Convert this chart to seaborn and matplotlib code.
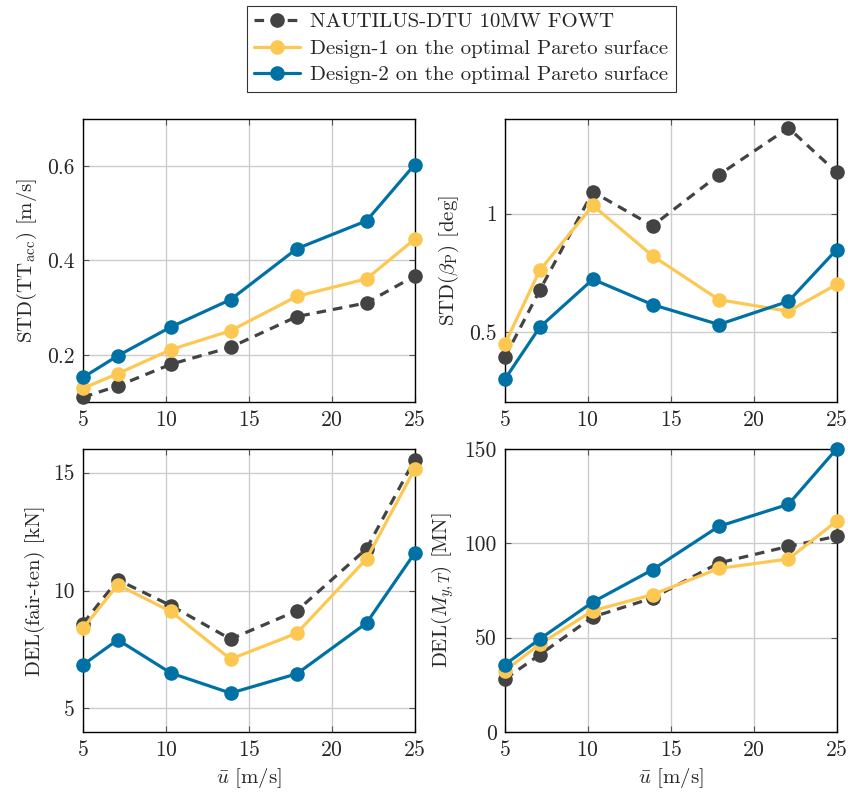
import matplotlib
matplotlib.use("Agg")
import matplotlib.pyplot as plt
import numpy as np
import pandas as pd
import seaborn as sns

# Mean wind speeds [m/s]
wind_speed = [5, 7.1, 10.3, 13.9, 17.9, 22.1, 25]

series_names = [
    "NAUTILUS-DTU 10MW FOWT",
    "Design-1 on the optimal Pareto surface",
    "Design-2 on the optimal Pareto surface",
]

# STD of tower-top acceleration [m/s]
std_tt_base = [0.110, 0.134, 0.180, 0.216, 0.281, 0.310, 0.367]
std_tt_d1 = [0.129, 0.160, 0.211, 0.251, 0.324, 0.361, 0.445]
std_tt_d2 = [0.152, 0.198, 0.259, 0.317, 0.425, 0.484, 0.603]

# STD of platform pitch [deg]
std_pitch_base = [0.395, 0.677, 1.092, 0.949, 1.164, 1.362, 1.175]
std_pitch_d1 = [0.451, 0.761, 1.035, 0.822, 0.637, 0.588, 0.701]
std_pitch_d2 = [0.302, 0.521, 0.723, 0.616, 0.532, 0.630, 0.848]

# DEL of fairlead tension [kN]
del_fair_base = [8.60, 10.45, 9.36, 7.94, 9.14, 11.77, 15.54]
del_fair_d1 = [8.40, 10.24, 9.11, 7.09, 8.19, 11.34, 15.14]
del_fair_d2 = [6.85, 7.91, 6.50, 5.65, 6.47, 8.62, 11.58]

# DEL of tower-base fore-aft moment [MN]
del_my_base = [28.1, 41.0, 61.0, 71.0, 89.6, 98.4, 103.7]
del_my_d1 = [32.5, 46.6, 64.3, 72.8, 86.7, 91.7, 111.7]
del_my_d2 = [35.7, 49.3, 68.9, 86.0, 109.0, 120.7, 150.0]

colors = ["#434343", "#FDC852", "#0071A4"]
linestyles = [(0, (3.0, 2.2)), "-", "-"]

sns.set_theme(style="white")
plt.rcParams["font.family"] = ["cmr10", "DejaVu Serif"]
plt.rcParams["mathtext.fontset"] = "cm"
plt.rcParams["axes.formatter.use_mathtext"] = True
plt.rcParams["axes.unicode_minus"] = False

fig = plt.figure(figsize=(8.48, 7.93), dpi=100)

left_l, left_r, width = 0.0979, 0.5955, 0.3910
bottom_t, bottom_b, height = 0.4931, 0.0769, 0.3569

panels = [
    dict(pos=[left_l, bottom_t, width, height],
         data=[std_tt_base, std_tt_d1, std_tt_d2],
         ylabel=r"STD(TT$_{\rm acc}$) [m/s]", ylim=(0.1, 0.7),
         yticks=[0.2, 0.4, 0.6], yticklabels=["0.2", "0.4", "0.6"], xlabel=None),
    dict(pos=[left_r, bottom_t, width, height],
         data=[std_pitch_base, std_pitch_d1, std_pitch_d2],
         ylabel=r"STD($\beta_{\rm P}$) [deg]", ylim=(0.205, 1.4),
         yticks=[0.5, 1.0], yticklabels=["0.5", "1"], xlabel=None),
    dict(pos=[left_l, bottom_b, width, height],
         data=[del_fair_base, del_fair_d1, del_fair_d2],
         ylabel="DEL(fair-ten) [kN]", ylim=(4, 16),
         yticks=[5, 10, 15], yticklabels=["5", "10", "15"],
         xlabel=r"$\bar{u}$ [m/s]"),
    dict(pos=[left_r, bottom_b, width, height],
         data=[del_my_base, del_my_d1, del_my_d2],
         ylabel=r"DEL($M_{y,T}$) [MN]", ylim=(0, 150),
         yticks=[0, 50, 100, 150], yticklabels=["0", "50", "100", "150"],
         xlabel=r"$\bar{u}$ [m/s]"),
]

handles = None
for p in panels:
    ax = fig.add_axes(p["pos"])
    for name, vals, col, ls in zip(series_names, p["data"], colors, linestyles):
        df = pd.DataFrame({"u": wind_speed, "v": vals})
        sns.lineplot(data=df, x="u", y="v", ax=ax, color=col, linestyle=ls,
                     linewidth=2.3, marker="o", markersize=10.5,
                     markeredgewidth=0, markeredgecolor=col,
                     label=name, clip_on=False, zorder=3)
    ax.set_xlim(5, 25)
    ax.set_xticks([5, 10, 15, 20, 25])
    ax.set_ylim(*p["ylim"])
    ax.set_yticks(p["yticks"])
    ax.set_yticklabels(p["yticklabels"])
    ax.grid(True, color="#cccccc", linewidth=1.0)
    ax.set_axisbelow(True)
    for s in ax.spines.values():
        s.set_color("black")
        s.set_linewidth(1.0)
    ax.tick_params(axis="both", which="both", direction="in", length=4,
                   width=0.8, color="#555555", labelsize=15.5, top=True,
                   right=True, bottom=True, left=True, pad=6)
    ax.set_ylabel(p["ylabel"], fontsize=15, labelpad=6)
    if p["xlabel"]:
        ax.set_xlabel(p["xlabel"], fontsize=15, labelpad=4)
    else:
        ax.set_xlabel("")
    if handles is None:
        handles, labels = ax.get_legend_handles_labels()
    ax.get_legend().remove()

leg = fig.legend(handles, labels, loc="upper center",
                 bbox_to_anchor=(0.544, 0.993), ncol=1, fontsize=15,
                 frameon=True, fancybox=False, handlelength=2.2,
                 handletextpad=0.5, labelspacing=0.38, borderpad=0.35,
                 borderaxespad=0.0)
leg.get_frame().set_edgecolor("black")
leg.get_frame().set_linewidth(0.8)

fig.savefig("out.png", dpi=100)
